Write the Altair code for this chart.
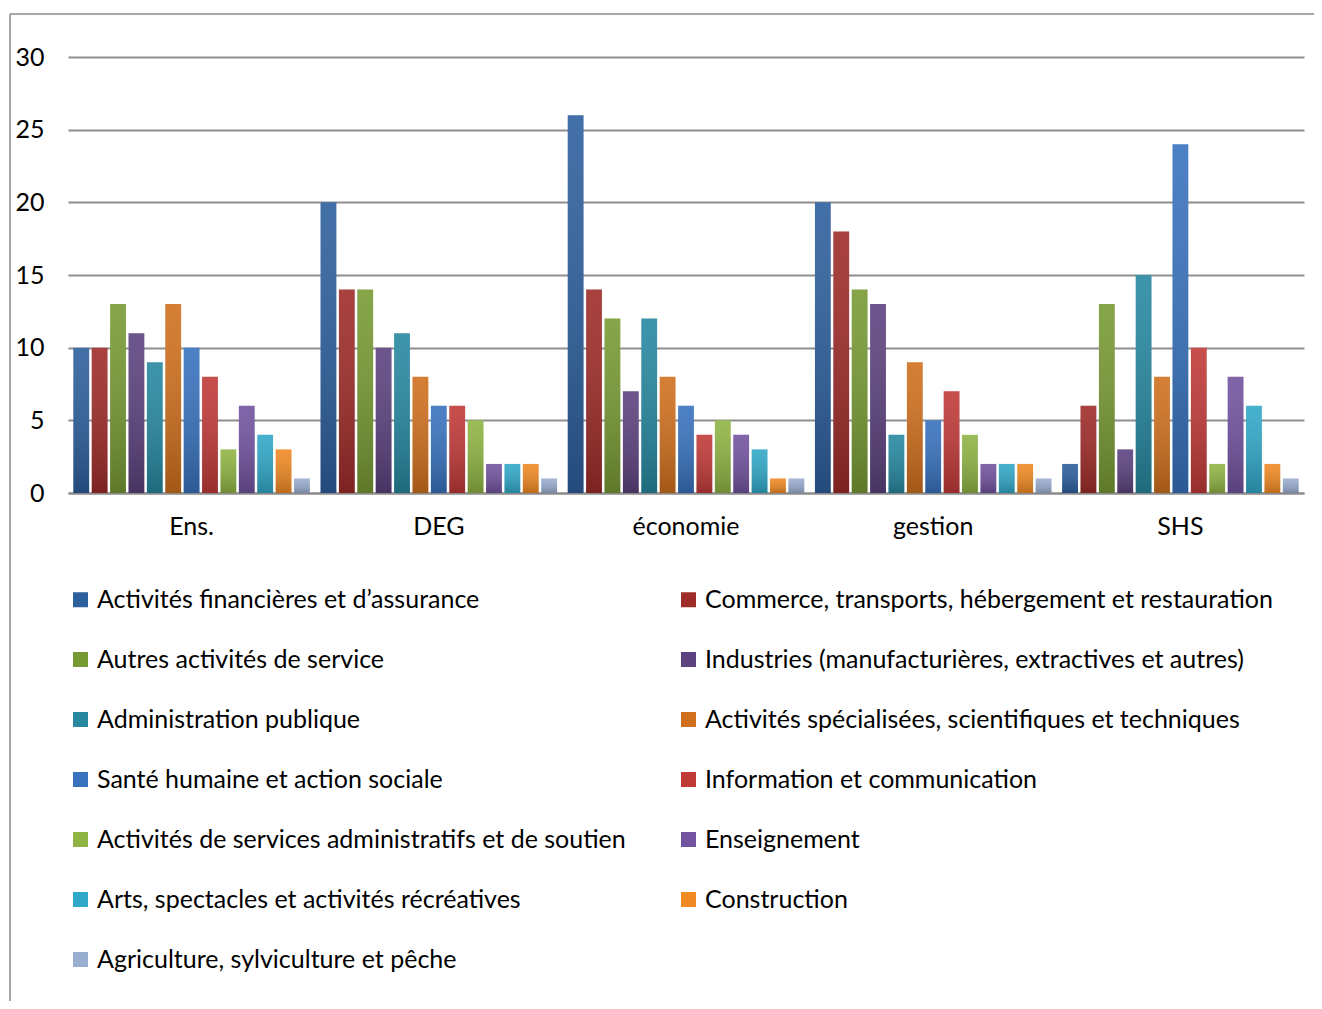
import altair as alt
import pandas as pd

groups = ["Ens.", "DEG", "économie", "gestion", "SHS"]

series = [
    "Activités financières et d’assurance",
    "Commerce, transports, hébergement et restauration",
    "Autres activités de service",
    "Industries (manufacturières, extractives et autres)",
    "Administration publique",
    "Activités spécialisées, scientifiques et techniques",
    "Santé humaine et action sociale",
    "Information et communication",
    "Activités de services administratifs et de soutien",
    "Enseignement",
    "\u00a0Arts, spectacles et activités récréatives",
    "Construction",
    "Agriculture, sylviculture et pêche",
]

colors = [
    "#2d5f9d", "#9e2c29", "#789a34", "#5c427e", "#2788a0", "#d0701e",
    "#3872be", "#c03a38", "#8fb443", "#72539f", "#31a8c8", "#f08a24",
    "#9aaed0",
]

# values per series, in the order of `groups`
v_financieres = [10, 20, 26, 20, 2]
v_commerce = [10, 14, 14, 18, 6]
v_autres = [13, 14, 12, 14, 13]
v_industries = [11, 10, 7, 13, 3]
v_admin_publique = [9, 11, 12, 4, 15]
v_specialisees = [13, 8, 8, 9, 8]
v_sante = [10, 6, 6, 5, 24]
v_information = [8, 6, 4, 7, 10]
v_services_admin = [3, 5, 5, 4, 2]
v_enseignement = [6, 2, 4, 2, 8]
v_arts = [4, 2, 3, 2, 6]
v_construction = [3, 2, 1, 2, 2]
v_agriculture = [1, 1, 1, 1, 1]

all_values = [
    v_financieres, v_commerce, v_autres, v_industries, v_admin_publique,
    v_specialisees, v_sante, v_information, v_services_admin,
    v_enseignement, v_arts, v_construction, v_agriculture,
]

rows = []
for s, vals in zip(series, all_values):
    for g, v in zip(groups, vals):
        rows.append({"groupe": g, "secteur": s, "valeur": v})
df = pd.DataFrame(rows)

# legend fills column by column: order entries so they read row by row
legend_order = series[0::2] + series[1::2]
legend_colors = [colors[series.index(s)] for s in legend_order]

FONT = "Lato"
FS = 25

x_enc = alt.X(
    "groupe:N", sort=groups, title=None,
    scale=alt.Scale(paddingInner=0, paddingOuter=0),
    axis=alt.Axis(labelAngle=0, ticks=False, labelPadding=21, labelFontSize=FS,
                  labelFont=FONT, labelColor="#000000", domainColor="#8a8a8a",
                  domainWidth=2),
)
xoff_enc = alt.XOffset(
    "secteur:N", sort=series,
    scale=alt.Scale(paddingInner=0.14, paddingOuter=0.29),
)
y_enc = alt.Y(
    "valeur:Q", title=None,
    scale=alt.Scale(domain=[0, 30], nice=False),
    axis=alt.Axis(values=[0, 5, 10, 15, 20, 25, 30], ticks=False, domain=False,
                  labelPadding=24, labelFontSize=FS, labelFont=FONT,
                  labelColor="#000000", gridColor="#8e8e8e", gridWidth=2),
)

bars = alt.Chart(df).mark_bar().encode(
    x=x_enc,
    xOffset=xoff_enc,
    y=y_enc,
    color=alt.Color(
        "secteur:N",
        scale=alt.Scale(domain=legend_order, range=legend_colors),
        legend=alt.Legend(
            title=None, orient="none", legendX=0, legendY=530,
            columns=2, gridAlign="all", columnPadding=11, rowPadding=34,
            symbolType="square", symbolSize=225, symbolStrokeWidth=0,
            labelFont=FONT, labelFontSize=FS, labelColor="#000000",
            labelOffset=4, labelLimit=700, padding=0,
        ),
    ),
)

shade = alt.Chart(df).mark_bar(
    fill=alt.Gradient(
        gradient="linear",
        stops=[
            alt.GradientStop(color="rgba(255,255,255,0.10)", offset=0),
            alt.GradientStop(color="rgba(0,0,0,0.22)", offset=1),
        ],
        x1=0, x2=0, y1=0, y2=1,
    )
).encode(x=alt.X("groupe:N", sort=groups), xOffset=alt.XOffset("secteur:N", sort=series),
         y=alt.Y("valeur:Q"))

frame_top = alt.Chart(pd.DataFrame({"a": [0]})).mark_rule(
    color="#8a8a8a", strokeWidth=1.5
).encode(x=alt.value(-58), x2=alt.value(1300), y=alt.value(-43))
frame_left = alt.Chart(pd.DataFrame({"a": [0]})).mark_rule(
    color="#8a8a8a", strokeWidth=1.5
).encode(x=alt.value(-58), y=alt.value(-43), y2=alt.value(960))

chart = alt.layer(bars, shade, frame_top, frame_left).properties(
    width=1236, height=436,
    autosize=alt.AutoSizeParams(type="none"),
    padding={"left": 60, "top": 49, "right": 10, "bottom": 508},
    background="#ffffff",
).configure_view(stroke=None)

chart.save("out.html", embed_options={"renderer": "svg", "actions": False})
